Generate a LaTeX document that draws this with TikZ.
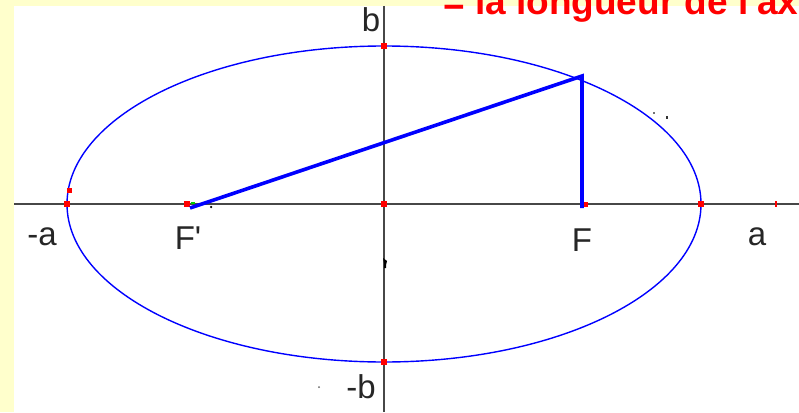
\documentclass[tikz,border=0pt]{standalone}
\usepackage{fontspec}
\setmainfont{Liberation Sans}
\definecolor{cream}{RGB}{255,255,204}
\definecolor{pureblue}{RGB}{0,0,255}
\definecolor{pured}{RGB}{255,0,0}
\begin{document}
\begin{tikzpicture}[x=1pt,y=-1pt,
  axis/.style={draw=black!72,line width=1.6pt},
  curve/.style={draw=pureblue,line width=1.4pt},
  seg/.style={draw=pureblue,line width=3.6pt},
  pt/.style={fill=pured,minimum size=6.5pt,inner sep=0pt,draw=none,rectangle},
  lab/.style={anchor=base,inner sep=0pt,font=\fontsize{33}{36}\selectfont,text=black!85}]
\useasboundingbox (0,0) rectangle (799,412);
\clip (0,0) rectangle (799,412);
\fill[cream] (0,0) rectangle (799,412);
\fill[white] (14,6) rectangle (799,412);
% title (cut at top)
\node[anchor=base west,inner sep=0pt,text=pured,font=\bfseries\fontsize{37}{40}\selectfont] (title) at (443,15) {= la longueur de l\textquotesingle axe};
% axes
\coordinate (xl) at (14,204);
\coordinate (xr) at (799,204);
\coordinate (yt) at (384,6);
\coordinate (yb) at (384,412);
\draw[axis] (xl) -- (xr);
\draw[axis] (yt) -- (yb);
% ellipse
\coordinate (O) at (384,204);
\draw[curve] (O) ellipse [x radius=317, y radius=158];
% key points
\coordinate (Fp) at (190,208);
\coordinate (P) at (582,76);
\coordinate (F) at (582,208);
\node[pt] (A1) at (67,204) {};
\node[pt] (A2) at (701,204) {};
\node[pt] (B1) at (384,46) {};
\node[pt] (B2) at (384,362) {};
\node[pt] (Oc) at (384,204) {};
\node[pt] (Fpt) at (187,204) {};
\node[pt,minimum size=5pt] (E1) at (69,190) {};
\node[pt,minimum size=5pt] (Fd) at (585,204) {};
\node[fill=pured,minimum width=2pt,minimum height=6pt,inner sep=0pt] (tick) at (776,204) {};
\node[fill=green!80!black,minimum width=4pt,minimum height=2pt,inner sep=0pt] (g1) at (193,203) {};
\node[fill=black,circle,minimum size=2.5pt,inner sep=0pt] (d1) at (211,207) {};
% focal segments
\draw[seg] (Fp) -- (P) -- (F);
% small marks
\fill[black] (383,258) -- (387,261) -- (386,265) -- (386,268) -- (384,268) -- (384,263) -- cycle;
\node[fill=black!60,circle,minimum size=2pt,inner sep=0pt] (d2) at (319,387) {};
\node[fill=black!55,minimum size=2pt,inner sep=0pt] (d3) at (654,113) {};
\node[fill=black!80,minimum width=2pt,minimum height=3pt,inner sep=0pt] (d4) at (667,117) {};
% labels
\node[lab] (lb) at (371,32) {b};
\node[lab] (lmb) at (361,398) {-b};
\node[lab] (lma) at (42,245) {-a};
\node[lab] (lFp) at (188,249) {F\textquotesingle};
\node[lab] (lF) at (582,251) {F};
\node[lab] (la) at (757,245) {a};
\end{tikzpicture}
\end{document}
